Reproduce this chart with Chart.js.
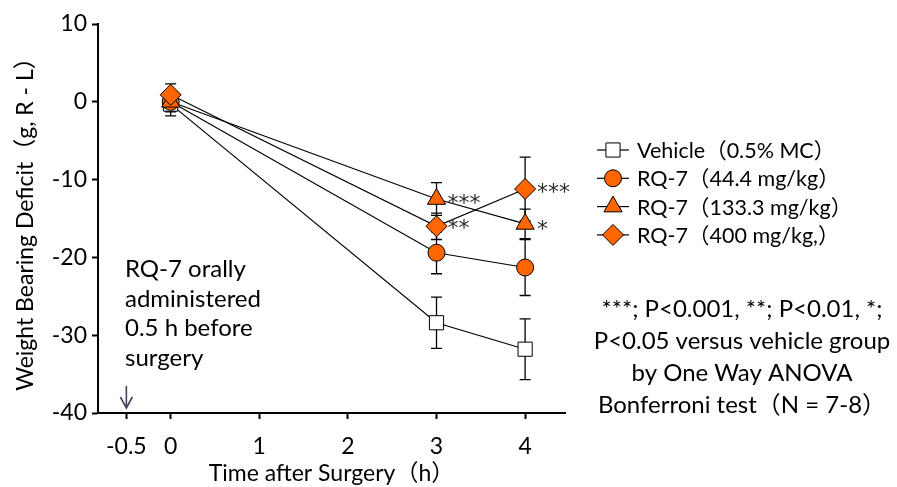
<!DOCTYPE html>
<html>
<head>
<meta charset="utf-8">
<script src="https://cdn.jsdelivr.net/npm/chart.js@4.4.1/dist/chart.umd.min.js"></script>
<style>
  html, body { margin: 0; padding: 0; background: #ffffff; }
  #wrap { width: 897px; height: 487px; position: relative; }
</style>
</head>
<body>
<div id="wrap"><canvas id="c" width="897" height="487"></canvas></div>
<script>
// ---- data ----
const timePoints = [0, 3, 4];
const xTickValues = [-0.5, 0, 1, 2, 3, 4];
const yTickValues = [10, 0, -10, -20, -30, -40];

const seriesNames = ['Vehicle（0.5% MC）', 'RQ-7（44.4 mg/kg）', 'RQ-7（133.3 mg/kg）', 'RQ-7（400 mg/kg,）'];
const vehicleMean = [-0.3, -28.4, -31.8];
const vehicleErr  = [1.5, 3.3, 3.9];
const rq44Mean    = [0.0, -19.4, -21.3];
const rq44Err     = [1.3, 2.7, 3.6];
const rq133Mean   = [0.0, -12.5, -15.7];
const rq133Err    = [1.2, 2.1, 1.9];
const rq400Mean   = [0.9, -16.0, -11.2];
const rq400Err    = [1.4, 1.7, 4.1];

// significance marks: [series index, time index, label]
const sigMarks = [
  [2, 1, '***'],
  [3, 1, '**'],
  [3, 2, '***'],
  [2, 2, '*']
];

const noteLeft = ['RQ-7 orally', 'administered', '0.5 h before', 'surgery'];
const noteRight = ['***; P<0.001, **; P<0.01, *;', 'P<0.05 versus vehicle group', 'by One Way ANOVA', 'Bonferroni test（N = 7-8）'];
const dosingTime = -0.5;

// ---- styles ----
const FONT = 'Lato, "Noto Sans CJK SC", sans-serif';
const ORANGE = '#FF6600';
const styles = [
  { pointStyle: 'rect',     radius: 10,  fill: '#ffffff' },
  { pointStyle: 'circle',   radius: 8.5, fill: ORANGE },
  { pointStyle: 'triangle', radius: 10.5,fill: ORANGE },
  { pointStyle: 'rectRot',  radius: 10.5,fill: ORANGE }
];
const means = [vehicleMean, rq44Mean, rq133Mean, rq400Mean];
const errs = [vehicleErr, rq44Err, rq133Err, rq400Err];
const drawOrder = [3, 2, 1, 0];
// label offsets for significance marks (dx, dy of the glyph centre)
const sigOffsets = [[11, -2.5], [11, -4.5], [12, -2.7], [12, -1]];

const datasets = means.map((m, i) => ({
  label: seriesNames[i],
  data: timePoints.map((t, j) => ({ x: t, y: m[j] })),
  showLine: true,
  borderColor: '#000000',
  borderWidth: 1.2,
  pointStyle: styles[i].pointStyle,
  pointRadius: styles[i].radius,
  pointHoverRadius: styles[i].radius,
  pointBackgroundColor: styles[i].fill,
  pointBorderColor: '#000000',
  pointBorderWidth: 1,
  order: drawOrder[i]
}));

const errorBars = {
  id: 'errorBars',
  beforeDatasetsDraw(chart) {
    const ctx = chart.ctx, xs = chart.scales.x, ys = chart.scales.y;
    ctx.save();
    ctx.strokeStyle = '#000000';
    ctx.lineWidth = 1.3;
    means.forEach((m, i) => {
      m.forEach((v, j) => {
        const px = xs.getPixelForValue(timePoints[j]);
        const top = ys.getPixelForValue(v + errs[i][j]);
        const bot = ys.getPixelForValue(v - errs[i][j]);
        ctx.beginPath();
        ctx.moveTo(px, top); ctx.lineTo(px, bot);
        ctx.moveTo(px - 5.5, top); ctx.lineTo(px + 5.5, top);
        ctx.moveTo(px - 5.5, bot); ctx.lineTo(px + 5.5, bot);
        ctx.stroke();
      });
    });
    ctx.restore();
  }
};

const extras = {
  id: 'extras',
  afterDraw(chart) {
    const ctx = chart.ctx, xs = chart.scales.x, ys = chart.scales.y;
    ctx.save();
    // significance marks
    ctx.fillStyle = '#2a2a2a';
    ctx.font = '22px "DejaVu Sans", sans-serif';
    ctx.textAlign = 'left';
    ctx.textBaseline = 'alphabetic';
    sigMarks.forEach(([s, j, txt], k) => {
      const px = xs.getPixelForValue(timePoints[j]);
      const py = ys.getPixelForValue(means[s][j]);
      ctx.fillText(txt, px + sigOffsets[k][0], py + sigOffsets[k][1] + 13);
    });
    // left note
    ctx.fillStyle = '#000000';
    ctx.font = '24px ' + FONT;
    noteLeft.forEach((t, k) => ctx.fillText(t, 125, 277 + k * 29.5));
    // dosing arrow
    const ax = xs.getPixelForValue(dosingTime);
    ctx.strokeStyle = '#3F4660';
    ctx.lineWidth = 1.6;
    ctx.beginPath();
    ctx.moveTo(ax, 386); ctx.lineTo(ax, 408);
    ctx.moveTo(ax - 6, 397); ctx.lineTo(ax, 408); ctx.lineTo(ax + 6, 397);
    ctx.stroke();
    // right note
    ctx.fillStyle = '#000000';
    ctx.textAlign = 'center';
    ctx.font = '24px ' + FONT;
    noteRight.forEach((t, k) => ctx.fillText(t, 742, 317 + k * 32));
    // legend
    ctx.textAlign = 'left';
    ctx.textBaseline = 'middle';
    ctx.font = '21.5px ' + FONT;
    seriesNames.forEach((name, i) => {
      const y = 150 + i * 28.3;
      ctx.strokeStyle = '#000000';
      ctx.lineWidth = 1.2;
      ctx.beginPath(); ctx.moveTo(597, y); ctx.lineTo(629, y); ctx.stroke();
      ctx.fillStyle = styles[i].fill;
      ctx.strokeStyle = '#000000';
      ctx.lineWidth = 1;
      Chart.helpers.drawPoint(ctx, { pointStyle: styles[i].pointStyle, radius: styles[i].radius, rotation: 0, borderWidth: 1 }, 613, y);
      ctx.fillStyle = '#000000';
      ctx.fillText(name, 637, y + 1);
    });
    ctx.restore();
  }
};

new Chart(document.getElementById('c'), {
  type: 'scatter',
  data: { datasets },
  plugins: [errorBars, extras],
  options: {
    responsive: false,
    animation: false,
    layout: { padding: { left: 0, right: 332, top: 24, bottom: 0 } },
    plugins: { legend: { display: false }, tooltip: { enabled: false } },
    scales: {
      x: {
        type: 'linear',
        min: -0.82,
        max: 4.45,
        afterBuildTicks(scale) { scale.ticks = xTickValues.map(v => ({ value: v })); },
        afterFit(scale) { scale.height = 74; },
        grid: { display: true, drawOnChartArea: false, drawTicks: true, tickLength: 6, color: '#000000', tickWidth: 2 },
        border: { display: true, color: '#000000', width: 2 },
        ticks: { color: '#000000', font: { family: FONT, size: 23 }, padding: 14, maxRotation: 0, autoSkip: false,
                 callback: v => String(v) },
        title: { display: true, text: 'Time after Surgery（h）', color: '#000000',
                 font: { family: FONT, size: 23 }, padding: { top: 0, bottom: 0 } }
      },
      y: {
        min: -40,
        max: 10,
        afterBuildTicks(scale) { scale.ticks = yTickValues.map(v => ({ value: v })); },
        afterFit(scale) { scale.width = 98; },
        grid: { display: true, drawOnChartArea: false, drawTicks: true, tickLength: 6, color: '#000000', tickWidth: 2 },
        border: { display: true, color: '#000000', width: 2 },
        ticks: { color: '#000000', font: { family: FONT, size: 23 }, padding: 5 },
        title: { display: true, text: 'Weight Bearing Deficit（g, R - L）', color: '#000000',
                 font: { family: FONT, size: 23 }, padding: { top: 12, bottom: 0 } }
      }
    }
  }
});
</script>
</body>
</html>
